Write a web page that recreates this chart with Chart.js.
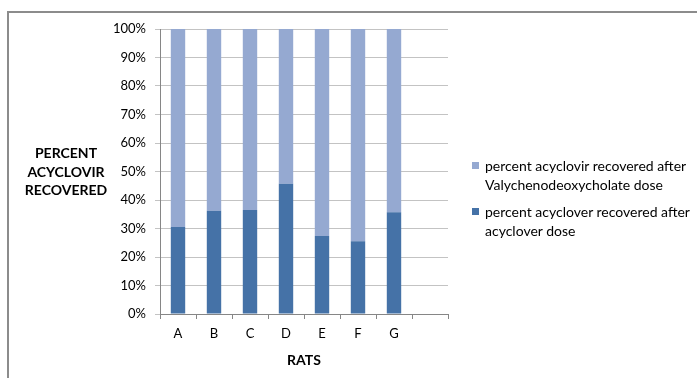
<!DOCTYPE html>
<html lang="en">
  <head>
    <meta charset="UTF-8" />
    <script src="https://cdn.jsdelivr.net/npm/chart.js@4.4.1/dist/chart.umd.min.js"></script>
    <title>Percent acyclovir recovered</title>
    <style>
      html,
      body {
        margin: 0;
        padding: 0;
        background: #fff;
      }

      .wrap {
        position: relative;
        width: 697px;
        height: 378px;
        overflow: hidden;
        font-family: Lato, "Liberation Sans", sans-serif;
        color: #000;
      }

      .frame {
        position: absolute;
        left: 7px;
        top: 11px;
        width: 720px;
        height: 400px;
        border-left: 2px solid #8c8c8c;
        border-top: 2px solid #8c8c8c;
      }

      #myChart {
        position: absolute;
        left: 0;
        top: 0;
      }

      .ytitle {
        position: absolute;
        left: 16px;
        width: 100px;
        top: 144px;
        text-align: center;
        font-weight: bold;
        font-size: 14px;
        line-height: 18.5px;
      }

      .legend {
        position: absolute;
        left: 472px;
        top: 156px;
        font-size: 14px;
        line-height: 19px;
      }

      .legend-item {
        position: relative;
        padding-left: 13px;
        margin-bottom: 8px;
      }

      .legend-box {
        position: absolute;
        left: 0;
        top: 6px;
        width: 7px;
        height: 7px;
      }
    </style>
  </head>

  <body>
    <div class="wrap">
      <div class="frame"></div>
      <canvas id="myChart" width="697" height="378"></canvas>
      <div class="ytitle">PERCENT<br />ACYCLOVIR<br />RECOVERED</div>
      <div class="legend" id="legend"></div>
    </div>

    <script>
      // rats (last slot is empty in the original)
      const rats = ["A", "B", "C", "D", "E", "F", "G", ""];
      // percent recovered after acyclover dose (bottom, dark)
      const acycloverDose = [30.5, 36.2, 36.5, 45.7, 27.4, 25.5, 35.7];
      // percent recovered after Valychenodeoxycholate dose (top, light)
      const valyDose = [69.5, 63.8, 63.5, 54.3, 72.6, 74.5, 64.3];
      const yTicks = [0, 10, 20, 30, 40, 50, 60, 70, 80, 90, 100];

      const darkBlue = "#4572a7";
      const lightBlue = "#95a9d1";
      const font = { family: "Lato, 'Liberation Sans', sans-serif", size: 13 };

      const datasets = [
        {
          label: "percent acyclover recovered after acyclover dose",
          data: acycloverDose,
          backgroundColor: darkBlue,
        },
        {
          label: "percent acyclovir recovered after Valychenodeoxycholate dose",
          data: valyDose,
          backgroundColor: lightBlue,
        },
      ];

      const ctx = document.getElementById("myChart");
      new Chart(ctx, {
        type: "bar",
        data: {
          labels: rats,
          datasets: datasets.map((d) => ({
            ...d,
            barPercentage: 0.4,
            categoryPercentage: 1,
            borderWidth: 0,
          })),
        },
        options: {
          responsive: false,
          animation: false,
          layout: { padding: { left: 100, right: 249, top: 29, bottom: 0 } },
          plugins: {
            legend: { display: false },
            tooltip: { enabled: false },
          },
          scales: {
            x: {
              stacked: true,
              grid: {
                drawOnChartArea: false,
                tickLength: 5,
                color: "#868686",
                offset: true,
              },
              border: { color: "#868686" },
              ticks: { color: "#000", font: font, padding: 7 },
              title: {
                display: true,
                text: "RATS",
                color: "#000",
                font: { ...font, size: 14, weight: "bold" },
                padding: { top: 4, bottom: 9 },
              },
              afterFit(scale) {
                scale.height = 64;
              },
            },
            y: {
              stacked: true,
              min: 0,
              max: 100,
              afterBuildTicks(scale) {
                scale.ticks = yTicks.map((v) => ({ value: v }));
              },
              ticks: {
                color: "#000",
                font: font,
                padding: 9,
                callback: (v) => v + "%",
              },
              grid: { color: "#c3c3c3", tickLength: 5 },
              border: { color: "#868686" },
              afterFit(scale) {
                scale.width = 60;
              },
            },
          },
        },
      });

      // legend, light series listed first like the original
      const legend = document.getElementById("legend");
      const legendText = [
        ["percent acyclovir recovered after", "Valychenodeoxycholate dose"],
        ["percent acyclover recovered after", "acyclover dose"],
      ];
      [lightBlue, darkBlue].forEach((c, i) => {
        const item = document.createElement("div");
        item.className = "legend-item";
        item.innerHTML =
          '<span class="legend-box" style="background:' + c + '"></span>' +
          legendText[i].join("<br />");
        legend.appendChild(item);
      });
    </script>
  </body>
</html>
